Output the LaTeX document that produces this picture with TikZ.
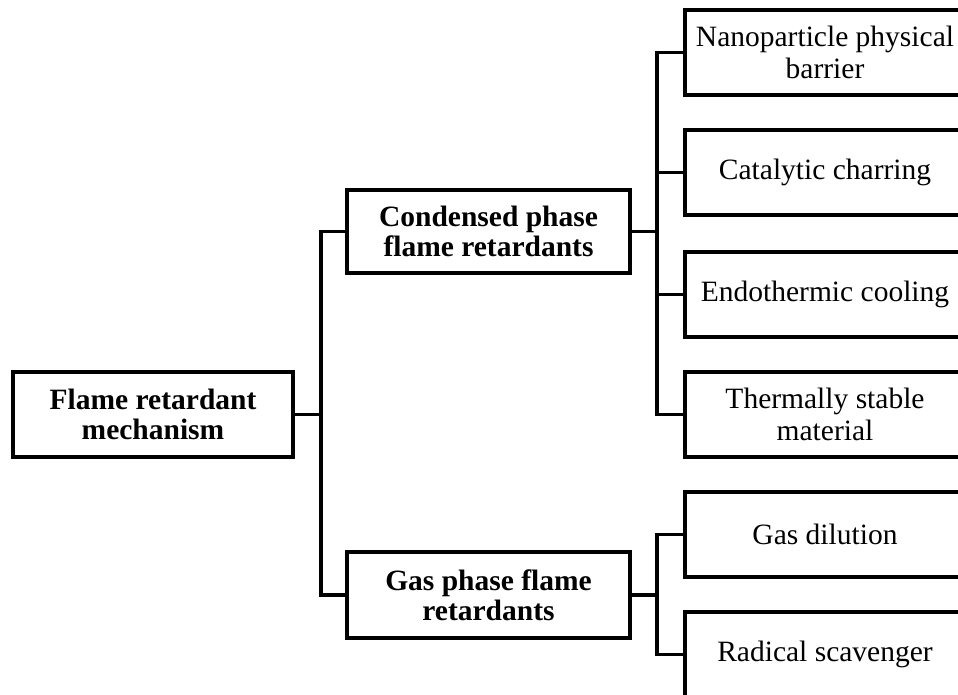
\documentclass[tikz,border=0pt]{standalone}
\usepackage{fontspec}
\setmainfont{Liberation Serif}
\usetikzlibrary{positioning}

\begin{document}
\begin{tikzpicture}[x=1pt, y=1pt, line width=3.4pt,
  box/.style={draw, rectangle, outer sep=0pt, inner sep=4pt, align=center, font=\fontsize{29.5}{32}\selectfont},
  mainbox/.style={box, font=\fontsize{29.5}{30}\selectfont\bfseries},
  leaf/.style={box, minimum width=280pt, minimum height=85pt}]
\useasboundingbox (0,0) rectangle (958,-695);
\clip (0,0) rectangle (958,-695);

% Root and phases
\node[mainbox, minimum width=280pt, minimum height=85pt] (root) at (153,-414.5) {Flame retardant\\mechanism};
\node[mainbox, minimum width=283pt, minimum height=83pt, above right=99pt and 54pt of root] (cond) {Condensed phase\\flame retardants};
\node[mainbox, minimum width=283pt, minimum height=86pt, below right=95pt and 54pt of root] (gas) {Gas phase flame\\retardants};

% Condensed phase mechanisms
\node[leaf, above right=95pt and 55pt of cond] (nano) {Nanoparticle physical\\barrier};
\node[leaf, below=35pt of nano] (cat) {Catalytic charring};
\node[leaf, below=37pt of cat] (endo) {Endothermic cooling};
\node[leaf, below=35pt of endo] (therm) {Thermally stable\\material};

% Gas phase mechanisms
\node[leaf, below=35pt of therm] (dil) {Gas dilution};
\node[leaf, below=35pt of dil] (rad) {Radical scavenger};

% Connectors
\draw (root.east) -- ++(28,0) |- (cond.west);
\draw (root.east) -- ++(28,0) |- (gas.west);
\foreach \n in {nano,cat,endo,therm}
  \draw (cond.east) -- ++(27,0) |- (\n.west);
\foreach \n in {dil,rad}
  \draw (gas.east) -- ++(27,0) |- (\n.west);

\end{tikzpicture}
\end{document}
